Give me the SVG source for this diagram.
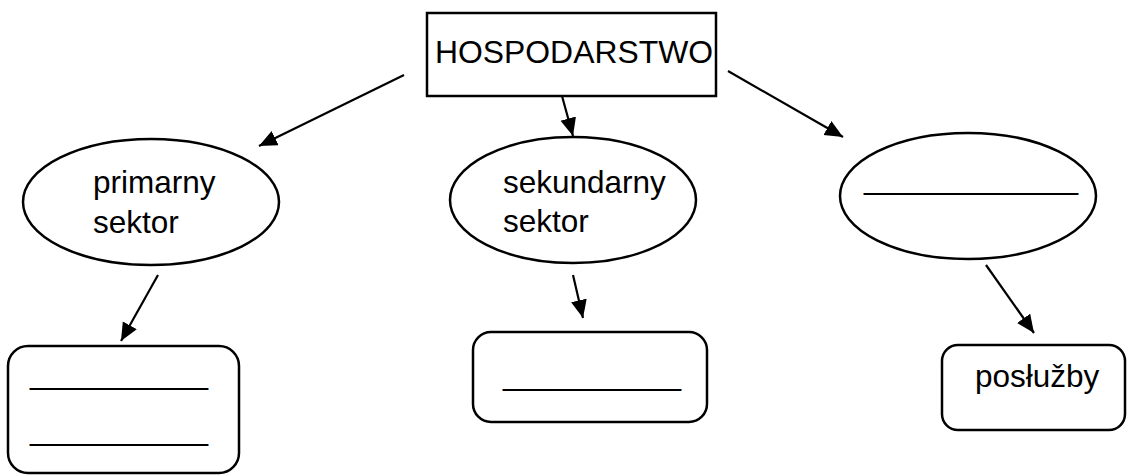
<svg xmlns="http://www.w3.org/2000/svg" width="1127" height="475" viewBox="0 0 1127 475">
<style>
.box{fill:#fff;stroke:#000;stroke-width:2.5}
.t{font-family:"Liberation Sans",Arial,sans-serif;font-size:31.5px;fill:#000}
.c{stroke:#000;stroke-width:2.2;fill:none;marker-end:url(#ah)}
</style>
<defs>
<marker id="ah" markerUnits="userSpaceOnUse" markerWidth="19" markerHeight="17" refX="18" refY="8" orient="auto" viewBox="0 0 19 17">
<path d="M0,0 L18,8 L0,16 z" fill="#000"/>
</marker>
</defs>
<rect width="1127" height="475" fill="#fff"/>
<g id="connectors">
<line class="c" x1="404" y1="75" x2="259" y2="146"/>
<line class="c" x1="562" y1="96" x2="573" y2="136"/>
<line class="c" x1="728" y1="71" x2="843" y2="137"/>
<line class="c" x1="158" y1="275" x2="121" y2="341"/>
<line class="c" x1="573" y1="275" x2="583" y2="318"/>
<line class="c" x1="986" y1="265" x2="1034" y2="333"/>
</g>
<g id="hospodarstwo">
<rect class="box" x="427" y="13" width="289" height="83"/>
<text class="t" x="435" y="63" textLength="278" lengthAdjust="spacingAndGlyphs">HOSPODARSTWO</text>
</g>
<g id="primarny">
<ellipse class="box" cx="151" cy="202" rx="128" ry="63"/>
<text class="t" x="93" y="193">primarny</text>
<text class="t" x="93" y="233">sektor</text>
</g>
<g id="sekundarny">
<ellipse class="box" cx="573" cy="200" rx="123" ry="63"/>
<text class="t" x="503" y="193">sekundarny</text>
<text class="t" x="503" y="232">sektor</text>
</g>
<g id="third">
<ellipse class="box" cx="968" cy="196" rx="128" ry="63"/>
<text class="t" x="864" y="189" textLength="214" lengthAdjust="spacingAndGlyphs">____________</text>
</g>
<g id="box-left">
<rect class="box" x="8" y="346" width="231" height="127" rx="20"/>
<text class="t" x="30" y="384" textLength="178" lengthAdjust="spacingAndGlyphs">__________</text>
<text class="t" x="30" y="440" textLength="178" lengthAdjust="spacingAndGlyphs">__________</text>
</g>
<g id="box-mid">
<rect class="box" x="473" y="332" width="234" height="90" rx="18"/>
<text class="t" x="503" y="385" textLength="178" lengthAdjust="spacingAndGlyphs">__________</text>
</g>
<g id="posluzby">
<rect class="box" x="942" y="345" width="183" height="85" rx="16"/>
<text class="t" x="975" y="387">posłužby</text>
</g>
</svg>
